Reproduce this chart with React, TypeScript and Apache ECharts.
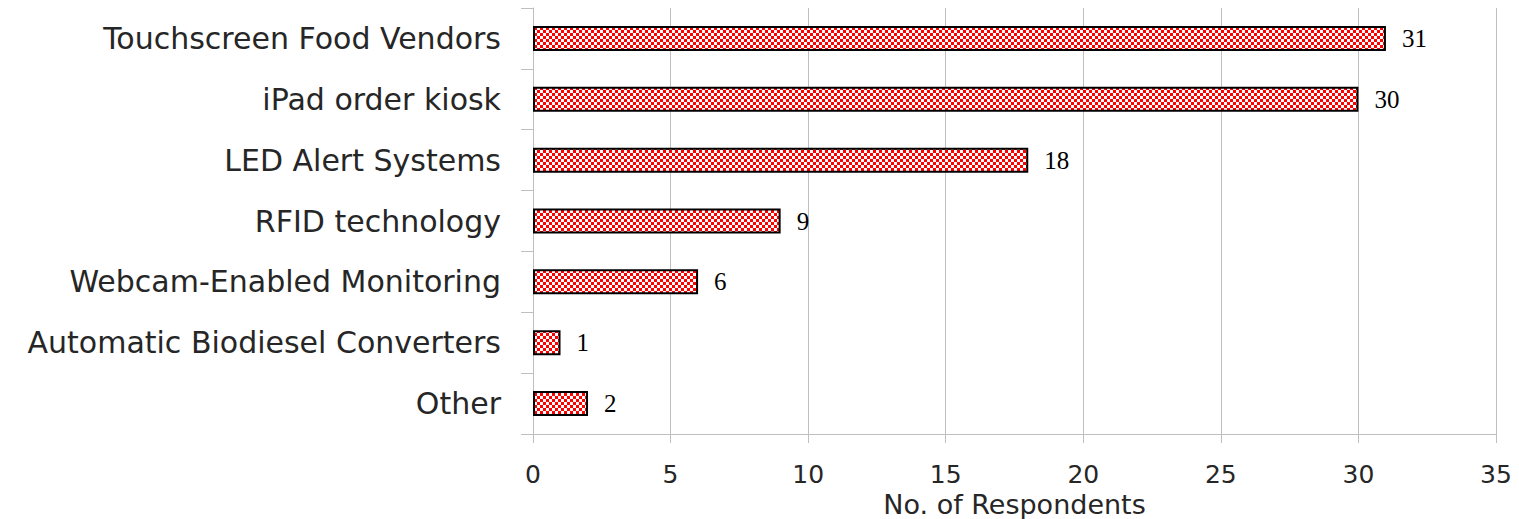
import React, { useEffect, useRef } from "react";
import * as echarts from "echarts";

const categories = [
  "Touchscreen Food Vendors",
  "iPad order kiosk",
  "LED Alert Systems",
  "RFID technology",
  "Webcam-Enabled Monitoring",
  "Automatic Biodiesel Converters",
  "Other",
];
const values = [31, 30, 18, 9, 6, 1, 2];
const xTicks = { min: 0, max: 35, interval: 5 };
const xName = "No. of Respondents";

function makePattern(): HTMLCanvasElement {
  const c = document.createElement("canvas");
  c.width = 6;
  c.height = 6;
  const ctx = c.getContext("2d")!;
  ctx.fillStyle = "#ff0000";
  ctx.fillRect(0, 0, 6, 6);
  ctx.fillStyle = "#ffffff";
  ctx.fillRect(0, 0, 3, 3);
  ctx.fillRect(3, 3, 3, 3);
  return c;
}

export default function App() {
  const ref = useRef<HTMLDivElement>(null);
  useEffect(() => {
    if (!ref.current) return;
    const chart = echarts.init(ref.current, null, { renderer: "svg" });
    const pattern = makePattern();
    chart.setOption({
      animation: false,
      backgroundColor: "#ffffff",
      grid: {
        left: 533,
        right: 23,
        top: 8,
        bottom: 85,
        containLabel: false,
        outerBoundsMode: "none",
      },
      xAxis: {
        type: "value",
        min: xTicks.min,
        max: xTicks.max,
        interval: xTicks.interval,
        name: xName,
        nameLocation: "middle",
        nameGap: 57,
        nameMoveOverlap: false,
        nameTextStyle: {
          fontFamily: "DejaVu Sans",
          fontSize: 27,
          color: "#262626",
          lineHeight: 27,
        },
        axisLine: { show: true, lineStyle: { color: "#bfbfbf", width: 1 } },
        axisTick: { show: true, length: 9, lineStyle: { color: "#bfbfbf" } },
        axisLabel: {
          fontFamily: "DejaVu Sans",
          fontSize: 25,
          lineHeight: 25,
          color: "#262626",
          margin: 28,
        },
        splitLine: { show: true, lineStyle: { color: "#bfbfbf", width: 1 } },
      },
      yAxis: {
        type: "category",
        data: categories,
        inverse: true,
        axisLine: { show: true, lineStyle: { color: "#bfbfbf", width: 1 } },
        axisTick: { show: true, length: 12, lineStyle: { color: "#bfbfbf" } },
        axisLabel: { fontFamily: "DejaVu Sans", fontSize: 30, color: "#262626", margin: 32 },
        splitLine: { show: false },
      },
      series: [
        {
          type: "bar",
          data: values,
          barWidth: 25,
          itemStyle: {
            color: { image: pattern, repeat: "repeat" } as any,
            borderColor: "#000",
            borderWidth: 2,
          },
          label: {
            show: true,
            position: "right",
            distance: 16,
            fontFamily: "Liberation Serif",
            fontSize: 25,
            color: "#000",
          },
        },
      ],
    });
    return () => chart.dispose();
  }, []);
  return (
    <div
      ref={ref}
      style={{ position: "fixed", left: 0, top: 0, width: 1519, height: 519 }}
    />
  );
}
